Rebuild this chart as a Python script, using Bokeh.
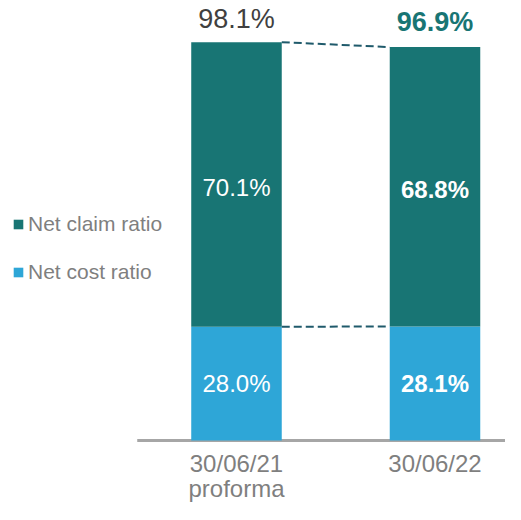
from bokeh.plotting import figure
from bokeh.models import Range1d, Legend, LegendItem, ColumnDataSource
from bokeh.core.properties import value
from bokeh.embed import file_html
from bokeh.resources import INLINE

# ---- data ----
categories = ["30/06/21\nproforma", "30/06/22"]
series_names = ["Net claim ratio", "Net cost ratio"]
net_cost = [28.0, 28.1]
net_claim = [70.1, 68.8]
cost_labels = ["28.0%", "28.1%"]
claim_labels = ["70.1%", "68.8%"]
total_labels = ["98.1%", "96.9%"]

# ---- styles ----
C_CLAIM = "#187574"
C_COST = "#2ea6d7"
C_DASH = "#1f5a6b"
C_GRAY = "#7f7f7f"
FONT = "Liberation Sans"

W, H = 505, 504
xs = list(range(len(categories)))
totals = [a + b for a, b in zip(net_cost, net_claim)]

p = figure(width=W, height=H, output_backend="svg", toolbar_location=None,
           x_range=Range1d(-1.1889, 1.3552), y_range=Range1d(-15.76, 108.37),
           min_border=0, min_border_left=0, min_border_right=0,
           min_border_top=0, min_border_bottom=0)
p.axis.visible = False
p.grid.visible = False
p.outline_line_color = None
p.background_fill_color = "white"
p.border_fill_color = "white"

bw = 0.456

# baseline axis line
p.segment(x0=[xs[0] - 0.5], x1=[xs[-1] + 0.5], y0=[0], y1=[0],
          line_color="#a6a6a6", line_width=3)

src = ColumnDataSource(dict(x=xs, cost=net_cost, claim=net_claim))
rs = p.vbar_stack(["cost", "claim"], x="x", width=bw, source=src,
                  color=[C_COST, C_CLAIM], line_color=None)

# dashed connectors
p.segment(x0=[xs[0] + bw / 2], x1=[xs[1] - bw / 2], y0=[totals[0]], y1=[totals[1]],
          line_color=C_DASH, line_width=2, line_dash="8 4")
p.segment(x0=[xs[0] + bw / 2], x1=[xs[1] - bw / 2], y0=[net_cost[0]], y1=[net_cost[1]],
          line_color=C_DASH, line_width=2, line_dash="8 4")

# inner labels
cost_mid = [c / 2 for c in net_cost]
claim_mid = [c + m / 2 for c, m in zip(net_cost, net_claim)]
styles = ["normal", "bold"]
for i in xs:
    p.text(x=[i], y=[cost_mid[i]], text=[cost_labels[i]], text_align="center",
           text_baseline="middle", text_color="white", text_font=value(FONT),
           text_font_size="24px", text_font_style=styles[i])
    p.text(x=[i], y=[claim_mid[i]], text=[claim_labels[i]], text_align="center",
           text_baseline="middle", text_color="white", text_font=value(FONT),
           text_font_size="24px", text_font_style=styles[i], y_offset=3)

# total labels
p.text(x=[xs[0]], y=[totals[0]], text=[total_labels[0]], text_align="center",
       text_baseline="alphabetic", text_color="#404040", text_font=value(FONT),
       text_font_size="27px", y_offset=-23)
p.text(x=[xs[1]], y=[totals[1]], text=[total_labels[1]], text_align="center",
       text_baseline="alphabetic", text_color=C_CLAIM, text_font=value(FONT),
       text_font_size="27px", text_font_style="bold", y_offset=-25)

# category labels
p.text(x=xs, y=[0, 0], text=categories, text_align="center",
       text_baseline="top", text_color=C_GRAY, text_font=value(FONT),
       text_font_size="24px", text_line_height=0.96, y_offset=9)

# legend
legend = Legend(items=[LegendItem(label=series_names[0], renderers=[rs[1]]),
                       LegendItem(label=series_names[1], renderers=[rs[0]])],
                location=(12, 220), orientation="vertical",
                glyph_width=12, glyph_height=12, label_standoff=4,
                label_text_font=FONT, label_text_font_size="21px",
                label_text_color=C_GRAY, label_height=24, spacing=24,
                padding=0, margin=0, border_line_alpha=0,
                background_fill_alpha=0)
p.add_layout(legend)

open("out.html", "w").write(file_html(p, INLINE))
